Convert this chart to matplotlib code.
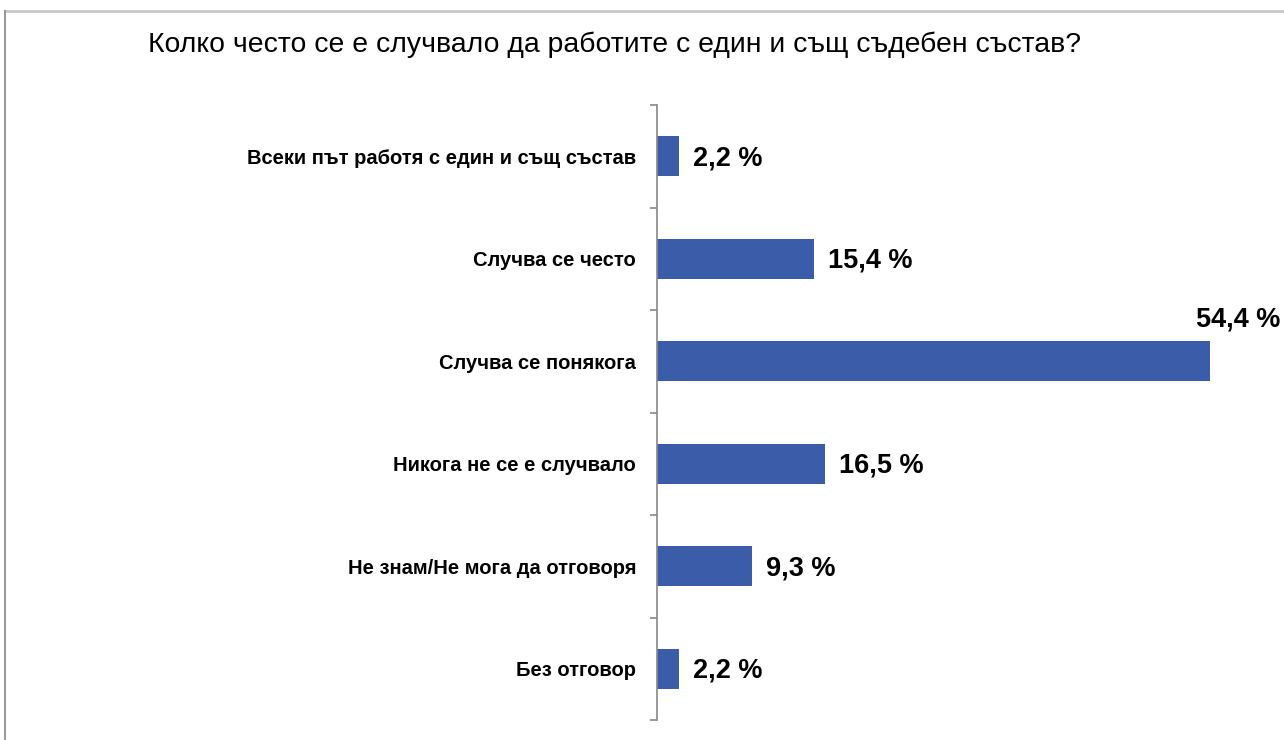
import numpy as np
import matplotlib.pyplot as plt
from matplotlib.lines import Line2D

plt.rcParams['font.family'] = ['Liberation Sans', 'DejaVu Sans']

title = "Колко често се е случвало да работите с един и същ съдебен състав?"
categories = [
    "Всеки път работя с един и същ състав",
    "Случва се често",
    "Случва се понякога",
    "Никога не се е случвало",
    "Не знам/Не мога да отговоря",
    "Без отговор",
]
values = [2.2, 15.4, 54.4, 16.5, 9.3, 2.2]

bar_color = "#3a5ca9"

fig = plt.figure(figsize=(12.84, 7.4), dpi=100)
ax = fig.add_axes([657 / 1284, 20 / 740, 610 / 1284, 615 / 740])

y = np.arange(len(categories))
ax.barh(y, values, height=0.39, color=bar_color)
ax.set_ylim(len(categories) - 0.5, -0.5)
ax.set_xlim(0, 60)

# category names at the bar centres, tick marks between categories
ax.set_yticks(y)
ax.set_yticklabels(categories, fontsize=14.5, fontweight='bold')
ax.tick_params(axis='y', which='major', length=0, pad=15)
ax.set_yticks(np.arange(len(categories) + 1) - 0.5, minor=True)
ax.tick_params(axis='y', which='minor', length=5, color='#888888', width=1.2)
ax.set_xticks([])

for side in ['top', 'right', 'bottom']:
    ax.spines[side].set_visible(False)
ax.spines['left'].set_color('#888888')
ax.spines['left'].set_linewidth(1.2)

peak = int(np.argmax(values))
for i, v in enumerate(values):
    txt = f"{v:.1f}".replace('.', ',') + " %"
    if i == peak:
        # longest bar: value sits above the bar end
        ax.annotate(txt, (v, i), xytext=(28, 42), textcoords='offset pixels',
                    ha='center', va='center', fontsize=19.5, fontweight='bold')
    else:
        ax.annotate(txt, (v, i), xytext=(14, -2), textcoords='offset pixels',
                    ha='left', va='center', fontsize=19.5, fontweight='bold')

fig.text(148 / 1284, 1 - 45 / 740, title, fontsize=20.4, ha='left', va='center')

# outer frame (top and left edges only)
fig.add_artist(Line2D([5 / 1284, 1], [1 - 11 / 740, 1 - 11 / 740],
                      transform=fig.transFigure, color='#c8c8c8', lw=2))
fig.add_artist(Line2D([5 / 1284, 5 / 1284], [0, 1 - 11 / 740],
                      transform=fig.transFigure, color='#9a9a9a', lw=1.5))

fig.savefig('out.png', dpi=100)
